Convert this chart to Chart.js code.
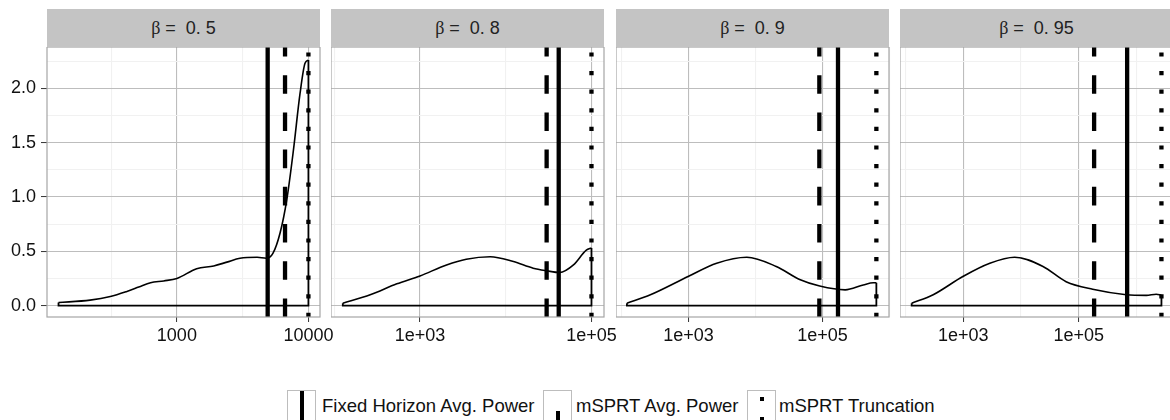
<!DOCTYPE html>
<html>
<head>
<meta charset="utf-8">
<script src="https://cdn.jsdelivr.net/npm/chart.js@4"></script>
<style>
  body { margin: 0; width: 1170px; height: 420px; overflow: hidden; background: #fff;
         font-family: "Liberation Sans", Arial, sans-serif; position: relative; }
  .strip { position: absolute; top: 9px; height: 38px; line-height: 38px; background: #c4c4c4;
           color: #222; font-size: 18px; text-align: center; white-space: pre; }
  .strip .b { font-family: "Liberation Serif", serif; }
  .panel { position: absolute; top: 47px; }
  .key { position: absolute; top: 390px; width: 27px; height: 34px; border: 1px solid #bdbdbd; background: #fff; }
  .key i { position: absolute; left: 11.5px; width: 4px; background: #000; }
  .lab { position: absolute; top: 394px; line-height: 24px; font-size: 18.5px; color: #111; white-space: nowrap; }
</style>
</head>
<body>
<div id="root"></div>
<div class="key" style="left:287px"><i style="top:0;height:34px"></i></div>
<div class="lab" style="left:322px">Fixed Horizon Avg. Power</div>
<div class="key" style="left:543px"><i style="top:20px;height:14px"></i></div>
<div class="lab" style="left:576px">mSPRT Avg. Power</div>
<div class="key" style="left:747px"><i style="top:6px;height:4px"></i><i style="top:26px;height:8px"></i></div>
<div class="lab" style="left:779px">mSPRT Truncation</div>
<script>
// facet labels
const betas = ['0. 5', '0. 8', '0. 9', '0. 95'];

// density curves (x = sample size, y = density on log10 scale)
const n1 = [126, 219, 312, 417, 513, 631, 794, 1000, 1413, 1905, 2399, 3020, 4074, 4786, 5370, 6095, 6839, 7691, 8630, 9419, 10000];
const d1 = [0.028, 0.05, 0.083, 0.13, 0.17, 0.21, 0.227, 0.25, 0.34, 0.365, 0.40, 0.436, 0.445, 0.436, 0.48, 0.67, 0.97, 1.43, 1.95, 2.23, 2.26];
const n2 = [126, 263, 537, 1000, 2042, 3467, 6607, 12303, 20893, 30200, 42658, 61660, 87096, 100000];
const d2 = [0.022, 0.10, 0.20, 0.273, 0.374, 0.427, 0.45, 0.405, 0.344, 0.32, 0.304, 0.374, 0.51, 0.53];
const n3 = [120, 269, 1000, 2630, 7413, 20417, 45709, 91201, 218776, 407380, 575440, 640000];
const d3 = [0.022, 0.10, 0.27, 0.39, 0.445, 0.36, 0.24, 0.18, 0.145, 0.19, 0.21, 0.21];
const n4 = [128, 302, 1000, 2884, 7762, 23988, 60256, 173780, 660693, 1479108, 2187762, 2691535];
const d4 = [0.022, 0.10, 0.27, 0.39, 0.445, 0.36, 0.22, 0.15, 0.10, 0.094, 0.105, 0.095];

// vertical reference lines per panel
const fixedAvg = [4900, 41500, 171000, 686000];
const msprtAvg = [6640, 30000, 90000, 184000];
const truncation = [10000, 100000, 640000, 2691535];

// axis limits
const xLo = [103, 91.8, 82.4, 80.4];
const xHi = [12246, 139960, 988553, 4265795];
const yLo = -0.105, yHi = 2.38;

// ticks
const xMajor = [[1000, 10000], [1e3, 1e5], [1e3, 1e5], [1e3, 1e5]];
const xLabels = [['1000', '10000'], ['1e+03', '1e+05'], ['1e+03', '1e+05'], ['1e+03', '1e+05']];
const xMinor = [[316.2, 3162], [100, 1e4], [100, 1e4, 1e6], [100, 1e4, 1e6]];
const yMajor = [0, 0.5, 1, 1.5, 2];
const yLabels = ['0.0', '0.5', '1.0', '1.5', '2.0'];
const yMinor = [0.25, 0.75, 1.25, 1.75, 2.25];

const series = [[n1, d1], [n2, d2], [n3, d3], [n4, d4]];
const lefts = [47, 331, 616, 900];
const panelW = 273, plotH = 270, xAxisH = 40, extraR = 40;

const majorGrid = '#bdbdbd', minorGrid = '#f1f1f1', tickCol = '#333';

const borderPlugin = {
  id: 'panelBorder',
  afterDraw(chart) {
    const a = chart.chartArea, c = chart.ctx;
    c.save();
    c.strokeStyle = '#a6a6a6';
    c.lineWidth = 1.2;
    c.strokeRect(a.left, a.top, a.right - a.left, a.bottom - a.top);
    c.restore();
  }
};

function vline(x, dash) {
  return {
    data: [{x: x, y: yLo}, {x: x, y: yHi}],
    showLine: true, pointRadius: 0, borderColor: '#000', borderWidth: 4.3,
    borderDash: dash, borderCapStyle: 'butt'
  };
}

const root = document.getElementById('root');
betas.forEach((b, i) => {
  const strip = document.createElement('div');
  strip.className = 'strip';
  strip.style.left = lefts[i] + 'px';
  strip.style.width = panelW + 'px';
  strip.innerHTML = '<span class="b">β</span> =  ' + b;
  root.appendChild(strip);

  const axisW = i === 0 ? 47 : 0;
  const W = axisW + panelW + extraR, H = plotH + xAxisH;
  const box = document.createElement('div');
  box.className = 'panel';
  box.style.left = (lefts[i] - axisW) + 'px';
  const cv = document.createElement('canvas');
  cv.width = W; cv.height = H;
  cv.style.width = W + 'px'; cv.style.height = H + 'px';
  box.appendChild(cv);
  root.appendChild(box);

  const xs = series[i][0], ys = series[i][1];
  const last = xs.length - 1;
  const curve = xs.map((x, k) => ({x: x, y: ys[k]}));
  const outline = [{x: xs[0], y: ys[0]}, {x: xs[0], y: 0}, {x: xs[last], y: 0}, {x: xs[last], y: ys[last]}];

  new Chart(cv, {
    type: 'scatter',
    data: {
      datasets: [
        vline(fixedAvg[i], []),
        vline(msprtAvg[i], [18.6, 18.6]),
        vline(truncation[i], [4.2, 14.4]),
        { data: curve, showLine: true, pointRadius: 0, borderColor: '#000', borderWidth: 1.6,
          cubicInterpolationMode: 'monotone' },
        { data: outline, showLine: true, pointRadius: 0, borderColor: '#000', borderWidth: 1.8 }
      ]
    },
    options: {
      responsive: false,
      animation: false,
      layout: { padding: { top: 0, left: 0, bottom: 0, right: extraR } },
      plugins: { legend: { display: false }, tooltip: { enabled: false } },
      scales: {
        x: {
          type: 'logarithmic', min: xLo[i], max: xHi[i], bounds: 'data',
          border: { display: false },
          afterBuildTicks: s => {
            s.ticks = xMinor[i].concat(xMajor[i]).map(v => ({value: v}));
          },
          afterFit: s => { s.height = xAxisH; s.paddingLeft = 0; s.paddingRight = 0; },
          grid: {
            color: c => xMajor[i].includes(c.tick.value) ? majorGrid : minorGrid,
            lineWidth: 1.1,
            tickLength: 5,
            tickWidth: 1,
            tickColor: c => xMajor[i].includes(c.tick.value) ? tickCol : 'rgba(0,0,0,0)'
          },
          ticks: {
            autoSkip: false, maxRotation: 0, padding: 3, color: '#111',
            font: { family: 'Liberation Sans', size: 18 },
            callback: v => {
              const k = xMajor[i].indexOf(v);
              return k >= 0 ? xLabels[i][k] : '';
            }
          }
        },
        y: {
          type: 'linear', min: yLo, max: yHi, bounds: 'data',
          border: { display: false },
          afterBuildTicks: s => {
            s.ticks = yMinor.concat(yMajor).map(v => ({value: v}));
          },
          afterFit: s => { s.width = axisW; s.paddingTop = 0; s.paddingBottom = 0; },
          grid: {
            color: c => yMajor.includes(c.tick.value) ? majorGrid : minorGrid,
            lineWidth: 1.1,
            drawTicks: i === 0,
            tickLength: 6,
            tickWidth: 1,
            tickColor: c => yMajor.includes(c.tick.value) ? tickCol : 'rgba(0,0,0,0)'
          },
          ticks: {
            display: i === 0, autoSkip: false, padding: 5, color: '#111',
            font: { family: 'Liberation Sans', size: 18 },
            callback: v => {
              const k = yMajor.indexOf(v);
              return k >= 0 ? yLabels[k] : '';
            }
          }
        }
      }
    },
    plugins: [borderPlugin]
  });
});
</script>
</body>
</html>
